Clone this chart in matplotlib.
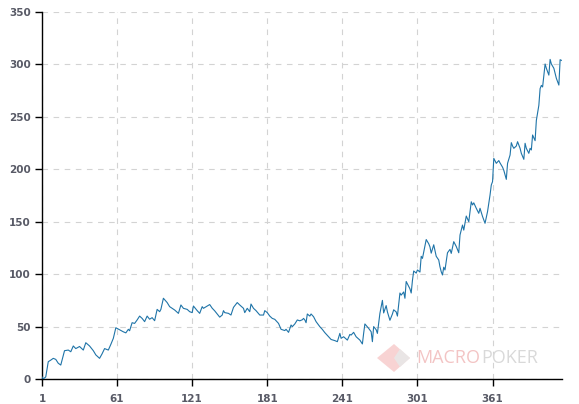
import matplotlib.pyplot as plt
from matplotlib.patches import Polygon

# session index and cumulative value
sessions = [
    1, 2, 4, 6, 8, 10, 12, 14, 16, 19, 22, 24, 26, 28, 31, 34, 36, 39, 42, 44,
    47, 49, 51, 54, 56, 58, 60, 63, 66, 68, 70, 71, 73, 75, 77, 79, 81, 83, 85, 87,
    89, 91, 93, 95, 96, 98, 101, 103, 105, 107, 110, 112, 114, 117, 119, 121, 122, 125, 127, 129,
    130, 133, 135, 137, 139, 141, 143, 145, 146, 147, 150, 152, 154, 157, 159, 162, 163, 165, 167, 168,
    170, 172, 175, 178, 179, 181, 183, 185, 187, 190, 192, 195, 196, 198, 200, 201, 203, 205, 207, 209,
    210, 211, 212, 213, 215, 216, 218, 220, 223, 225, 227, 230, 232, 235, 237, 239, 240, 242, 245, 247,
    248, 250, 252, 255, 257, 258, 259, 262, 264, 265, 266, 268, 269, 271, 273, 274, 276, 277, 279, 281,
    282, 284, 285, 287, 288, 290, 291, 292, 295, 296, 297, 298, 300, 301, 303, 304, 305, 306, 308, 310,
    311, 312, 314, 316, 318, 319, 320, 321, 322, 323, 325, 327, 328, 330, 332, 334, 335, 337, 338, 340,
    342, 344, 345, 346, 348, 350, 351, 353, 355, 357, 359, 360, 361, 362, 364, 366, 367, 369, 370, 372,
    373, 375, 376, 377, 378, 380, 381, 383, 384, 386, 387, 388, 390, 391, 392, 393, 395, 396, 398, 399,
    400, 401, 403, 404, 406, 407, 408, 410, 412, 414, 415, 416,
]
winnings = [
    2, 0, 2, 16.5, 18, 19.7, 18.7, 15, 13.3, 27, 27.6, 26, 31.5, 29, 31, 27.6, 34.6, 31.5, 27, 23,
    19.7, 24, 29, 27.6, 33, 38.8, 48.9, 47, 45, 44, 47.4, 46, 53.7, 53, 56.3, 60, 57.8, 54.7, 60, 57,
    58.5, 55.6, 66.4, 64.2, 66.4, 77, 72.9, 69, 67.4, 65.8, 62.6, 70.6, 67.4, 66.4, 64.2, 63.3, 69.6, 65.2, 62.6, 69,
    67.4, 69.6, 71, 67.5, 65, 62, 59, 61, 65.2, 63.3, 62.6, 61, 68.3, 72.9, 70.6, 67.4, 63.3, 67.4, 64.2, 71.5,
    67.4, 65.2, 61, 61, 65.2, 63.3, 60, 57.8, 56.9, 53, 47.4, 46.2, 47.4, 44.5, 51.5, 49.9, 52.5, 56.3, 55.5, 56.5,
    57.8, 56.3, 53.7, 62, 60, 62, 59.4, 54.7, 49.9, 47.3, 44.2, 40.3, 37.7, 36.6, 35.6, 43.5, 38.8, 40.3, 37.1, 42.5,
    41.9, 44.5, 40.3, 37.1, 33.4, 43.5, 52.5, 48.3, 45.1, 35.6, 50, 47, 43.5, 62.6, 75, 63, 70, 64, 56, 62,
    66, 64, 60, 82, 80, 83, 77, 93, 86, 82, 94, 103, 101, 104, 102, 117, 115, 121, 133, 129,
    126, 120, 128, 117, 113.5, 107, 102.3, 99.2, 106.6, 104, 120.4, 123.6, 119.8, 131, 126.4, 120.4, 137.3, 146.8, 142, 155.4,
    150, 169, 166, 168, 162.8, 158, 162.8, 155, 148.5, 159.6, 175.5, 185, 188.2, 210.4, 205.7, 208.3, 206, 202, 199, 190.4,
    205.7, 213.6, 225.4, 222.2, 220, 222.2, 226.3, 220, 215.2, 209.5, 224.8, 220, 215.2, 220, 218.4, 232.7, 227.3, 246.6, 261, 276.9,
    280, 278.5, 300.4, 296.3, 289.8, 304.8, 300.4, 296.3, 286.7, 280.3, 304.5, 303.9,
]
x_ticks = [1, 61, 121, 181, 241, 301, 361]
y_ticks = [0, 50, 100, 150, 200, 250, 300, 350]

fig = plt.figure(figsize=(5.79, 4.04), dpi=100)
ax = fig.add_axes([42 / 579, 1 - 379 / 404, 520 / 579, 367 / 404])

ax.plot(sessions, winnings, color="#1f74a8", linewidth=0.8, zorder=3)

ax.set_xlim(1, 416.5)
ax.set_ylim(0, 350)
ax.set_xticks(x_ticks)
ax.set_yticks(y_ticks)
ax.grid(True, color="#d3d3d3", linestyle=(0, (5, 5)), linewidth=0.8)
ax.set_axisbelow(True)

for side in ["top", "right"]:
    ax.spines[side].set_visible(False)
for side in ["left", "bottom"]:
    ax.spines[side].set_color("black")
    ax.spines[side].set_linewidth(1.0)

ax.tick_params(axis="both", direction="out", length=5, width=1, color="black",
               labelsize=7.5, labelcolor="#585a66", pad=3)
ax.tick_params(axis="x", pad=6)
for lab in ax.get_xticklabels() + ax.get_yticklabels():
    lab.set_fontweight("bold")

# watermark logo
fig.patches.append(Polygon([(394 / 579, 1 - 344 / 404), (410 / 579, 1 - 358 / 404),
                            (394 / 579, 1 - 372 / 404), (377 / 579, 1 - 358 / 404)],
                           closed=True, transform=fig.transFigure,
                           facecolor="#f7c9c9", edgecolor="none", alpha=0.8, zorder=5))
fig.patches.append(Polygon([(400 / 579, 1 - 349 / 404), (410 / 579, 1 - 358 / 404),
                            (400 / 579, 1 - 367 / 404), (394 / 579, 1 - 358 / 404)],
                           closed=True, transform=fig.transFigure,
                           facecolor="#e8e8e8", edgecolor="none", alpha=0.9, zorder=6))
fig.text(416 / 579, 1 - 358 / 404, "MACRO", color="#f3c4c4", fontsize=13,
         family="Open Sans", va="center", ha="left", zorder=6)
fig.text(481 / 579, 1 - 358 / 404, "POKER", color="#d9d9d9", fontsize=13,
         family="Open Sans", va="center", ha="left", zorder=6)

fig.savefig("out.png", dpi=100)
